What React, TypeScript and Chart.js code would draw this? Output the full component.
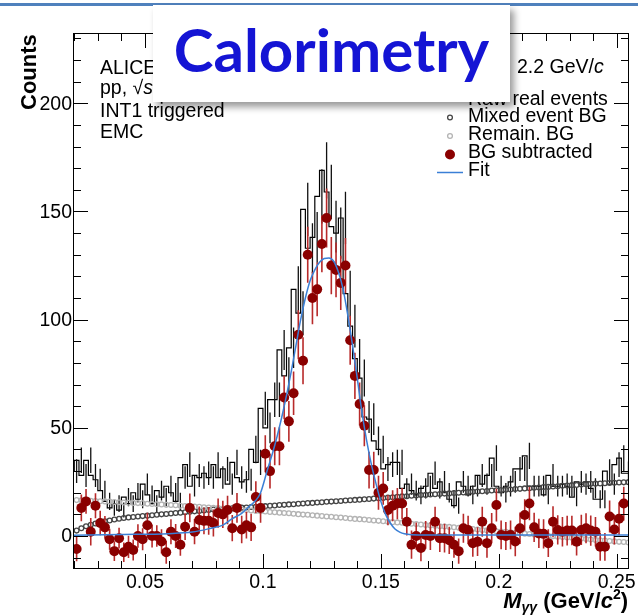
import React, { useEffect, useRef } from 'react';
import { Chart, registerables } from 'chart.js';
Chart.register(...registerables);

// ---------- data ----------
const BIN_LOW = 0.02;
const BIN_WIDTH = 0.002;

const RAW_COUNTS = [
  30, 35, 28, 35, 28, 26, 21, 16, 13, 15,
  12, 18, 15, 20, 17, 24, 19, 15, 21, 18,
  23, 20, 16, 27, 33, 23, 28, 27, 29, 27,
  33, 27, 31, 24, 34, 27, 25, 26, 40, 34,
  59, 50, 63, 63, 86, 74, 87, 114, 103, 151,
  133, 138, 157, 169, 159, 143, 140, 147, 112, 97,
  82, 73, 55, 54, 44, 40, 31, 33, 34, 34,
  22, 24, 21, 19, 22, 23, 29, 22, 25, 20,
  17, 14, 25, 23, 19, 23, 28, 24, 28, 36,
  23, 20, 23, 25, 31, 31, 37, 23, 23, 23,
  19, 28, 23, 23, 24, 23, 18, 25, 24, 25,
  22, 17, 17, 30, 24, 33, 36, 29,
];

const MIXED_BG = [
  2.5, 3.6, 4.5, 5.2, 5.8, 6.3, 6.8, 7.2, 7.6, 8.0,
  8.3, 8.6, 8.8, 9.0, 9.2, 9.4, 9.6, 9.8, 10.0, 10.2,
  10.4, 10.6, 10.8, 11.0, 11.2, 11.4, 11.6, 11.8, 12.0, 12.2,
  12.3, 12.5, 12.6, 12.8, 12.9, 13.1, 13.2, 13.4, 13.5, 13.7,
  13.8, 14.0, 14.1, 14.3, 14.4, 14.6, 14.7, 14.9, 15.0, 15.2,
  15.3, 15.5, 15.6, 15.8, 15.9, 16.1, 16.2, 16.4, 16.5, 16.7,
  16.8, 17.0, 17.1, 17.3, 17.4, 17.6, 17.8, 17.9, 18.1, 18.3,
  18.4, 18.6, 18.7, 18.9, 19.0, 19.2, 19.3, 19.4, 19.6, 19.7,
  19.9, 20.0, 20.1, 20.3, 20.4, 20.6, 20.7, 20.8, 21.0, 21.1,
  21.3, 21.4, 21.5, 21.7, 21.8, 22.0, 22.1, 22.3, 22.4, 22.6,
  22.7, 22.9, 23.0, 23.2, 23.3, 23.5, 23.6, 23.8, 23.9, 24.1,
  24.2, 24.3, 24.4, 24.5, 24.6, 24.7, 24.8, 24.9,
];

const REMAIN_BG = [
  16.6, 16.5, 16.4, 16.3, 16.2, 16.1, 16.0, 15.9, 15.7, 15.6,
  15.5, 15.4, 15.3, 15.2, 15.1, 14.9, 14.8, 14.7, 14.6, 14.4,
  14.3, 14.2, 14.0, 13.9, 13.8, 13.6, 13.5, 13.3, 13.2, 13.0,
  12.9, 12.7, 12.6, 12.4, 12.3, 12.1, 12.0, 11.8, 11.6, 11.5,
  11.3, 11.1, 11.0, 10.8, 10.6, 10.5, 10.3, 10.1, 9.9, 9.8,
  9.6, 9.4, 9.2, 9.0, 8.9, 8.7, 8.5, 8.3, 8.1, 7.9,
  7.8, 7.6, 7.4, 7.2, 7.0, 6.8, 6.6, 6.4, 6.3, 6.1,
  5.9, 5.7, 5.5, 5.3, 5.1, 4.9, 4.7, 4.5, 4.4, 4.2,
  4.0, 3.8, 3.6, 3.4, 3.2, 3.0, 2.8, 2.6, 2.4, 2.2,
  2.1, 1.9, 1.7, 1.5, 1.3, 1.1, 0.9, 0.7, 0.5, 0.3,
  0.1, -0.1, -0.3, -0.5, -0.7, -0.8, -1.0, -1.2, -1.4, -1.6,
  -1.8, -2.0, -2.1, -2.3, -2.5, -2.7, -2.8, -3.0,
];

const BG_SUBTRACTED = [
  -6, 13, 16, 2, 14, 6, 4, -1.5, -7, -1,
  -7.5, -5, -6.5, 0, -1.5, 5, 0, 0, -2.5, -7.5,
  2, 0, -4, 4.3, 13, 2, 7.4, 7, 7, 6,
  10.6, 10, 12, 3.6, 13, 3, 5, 4, 18, 13,
  38, 30, 41.5, 41.5, 64, 53, 66, 93, 81, 130,
  110, 114, 135, 147, 125, 123, 117, 125, 90.5, 74,
  61, 51, 30.5, 30.5, 20, 22, 12, 14, 15, 15,
  6.6, -4, 0, -5.5, 0.5, 0, 6.6, -1, -1, -2,
  -4, -7, 3.6, 2.8, -3.3, -2.6, 6.6, -3.3, 3.6, 14.3,
  0.5, 0, 0.5, -2.5, 3.6, 9.7, 15, 4, 1.2, 1,
  -3.3, 6.6, 2.8, 2, 2.5, 2.5, -2.6, 2.8, 3.6, 2.5,
  2, -5, -5, 9, 3, 8, 15, null,
];

const FIT_X = [
  0.0195, 0.04, 0.06, 0.07, 0.078, 0.083, 0.087, 0.091, 0.094, 0.097,
  0.099, 0.102, 0.104, 0.106, 0.108, 0.110, 0.112, 0.114, 0.116, 0.118,
  0.120, 0.122, 0.124, 0.126, 0.128, 0.130, 0.132, 0.134, 0.136, 0.138,
  0.140, 0.142, 0.144, 0.146, 0.148, 0.150, 0.152, 0.154, 0.156, 0.158,
  0.160, 0.163, 0.170, 0.200, 0.2553,
];
const FIT_Y = [
  0.4, 0.7, 1.1, 1.8, 3.6, 5.0, 8.0, 10.5, 13.5, 16.5,
  20, 31, 38, 46, 55, 65, 76, 88, 100, 110,
  118, 123, 126.5, 128.3, 128.5, 127, 122, 114, 102, 88,
  73, 57, 44, 33, 24, 16, 10, 6, 3.2, 1.8,
  1.0, 0.6, 0.5, 0.5, 0.5,
];

const X_MIN = 0.01947;
const X_MAX = 0.25522;
const Y_MIN = -15.25;
const Y_MAX = 232.5;
const X_MAJOR = [0.05, 0.1, 0.15, 0.2, 0.25];
const X_LABELS = ['0.05', '0.1', '0.15', '0.2', '0.25'];
const X_MINOR = [0.02, 0.03, 0.04, 0.06, 0.07, 0.08, 0.09, 0.11, 0.12, 0.13, 0.14, 0.16, 0.17, 0.18, 0.19, 0.21, 0.22, 0.23, 0.24];
const Y_MAJOR = [0, 50, 100, 150, 200];
const Y_LABELS = ['0', '50', '100', '150', '200'];
const Y_MINOR = [-10, 10, 20, 30, 40, 60, 70, 80, 90, 110, 120, 130, 140, 160, 170, 180, 190, 210, 220, 230];

const LEGEND_ITEMS = ['Raw real events', 'Mixed event BG', 'Remain. BG', 'BG subtracted', 'Fit'];

// ---------- colours ----------
const RED = '#8a0000';
const RED_ERR = '#b82a2a';
const DARK = '#454545';
const GREY = '#b4b4b4';
const BLUE = '#3a7fd6';
const FONT = '"Liberation Sans", Arial, Helvetica, sans-serif';

// ---------- derived datasets ----------
const centers = RAW_COUNTS.map((_, i) => BIN_LOW + BIN_WIDTH * (i + 0.5));
const histSteps = RAW_COUNTS.map((v, i) => ({ x: BIN_LOW + BIN_WIDTH * i, y: v }));
histSteps.push({ x: BIN_LOW + BIN_WIDTH * RAW_COUNTS.length, y: RAW_COUNTS[RAW_COUNTS.length - 1] });

const rawErr: any[] = [];
RAW_COUNTS.forEach((v, i) => {
  const e = Math.sqrt(v);
  rawErr.push({ x: centers[i], y: v - e }, { x: centers[i], y: v + e }, { x: centers[i], y: null });
});
const redErr: any[] = [];
BG_SUBTRACTED.forEach((v, i) => {
  if (v === null) return;
  const e = Math.sqrt(RAW_COUNTS[i] + MIXED_BG[i]);
  redErr.push({ x: centers[i], y: v - e }, { x: centers[i], y: v + e }, { x: centers[i], y: null });
});
const redPts = BG_SUBTRACTED.map((v, i) => ({ x: centers[i], y: v }));
const mixedPts = MIXED_BG.map((v, i) => ({ x: centers[i], y: v }));
const remainPts = REMAIN_BG.map((v, i) => ({ x: centers[i], y: v }));
const fitPts = FIT_X.map((x, i) => ({ x, y: FIT_Y[i] }));

function drawRich(ctx: CanvasRenderingContext2D, parts: any[], x: number, y: number, align: 'left' | 'right') {
  let total = 0;
  parts.forEach((p) => { ctx.font = p.f; total += ctx.measureText(p.t).width; });
  let cx = align === 'right' ? x - total : x;
  ctx.textAlign = 'left';
  ctx.textBaseline = 'alphabetic';
  parts.forEach((p) => {
    ctx.font = p.f;
    ctx.fillText(p.t, cx, y + (p.dy || 0));
    cx += ctx.measureText(p.t).width;
  });
}

const rootPlugin = {
  id: 'rootStyle',
  afterDraw(chart: any) {
    const { ctx, chartArea: a, scales } = chart;
    const xs = scales.x;
    const ys = scales.y;
    ctx.save();
    ctx.strokeStyle = '#000';
    ctx.lineWidth = 1;
    ctx.strokeRect(a.left + 0.5, a.top + 0.5, a.right - a.left - 1, a.bottom - a.top - 1);

    const xTick = (v: number, len: number) => {
      const px = Math.round(xs.getPixelForValue(v)) + 0.5;
      ctx.beginPath();
      ctx.moveTo(px, a.bottom); ctx.lineTo(px, a.bottom - len);
      ctx.moveTo(px, a.top); ctx.lineTo(px, a.top + len);
      ctx.stroke();
    };
    const yTick = (v: number, len: number) => {
      const py = Math.round(ys.getPixelForValue(v)) + 0.5;
      ctx.beginPath();
      ctx.moveTo(a.left, py); ctx.lineTo(a.left + len, py);
      ctx.moveTo(a.right, py); ctx.lineTo(a.right - len, py);
      ctx.stroke();
    };
    X_MINOR.forEach((v) => xTick(v, 8));
    X_MAJOR.forEach((v) => xTick(v, 15));
    Y_MINOR.forEach((v) => yTick(v, 8));
    Y_MAJOR.forEach((v) => yTick(v, 15));

    ctx.fillStyle = '#000';
    ctx.font = '19.5px ' + FONT;
    ctx.textAlign = 'right';
    ctx.textBaseline = 'middle';
    Y_MAJOR.forEach((v, i) => ctx.fillText(Y_LABELS[i], a.left - 1, ys.getPixelForValue(v) + 1));
    ctx.textAlign = 'center';
    ctx.textBaseline = 'alphabetic';
    X_MAJOR.forEach((v, i) => ctx.fillText(X_LABELS[i], xs.getPixelForValue(v), 588));

    // y title
    ctx.save();
    ctx.translate(36, 110);
    ctx.rotate(-Math.PI / 2);
    ctx.font = 'bold 22px ' + FONT;
    ctx.textAlign = 'left';
    ctx.fillText('Counts', 0, 0);
    ctx.restore();

    // x title
    drawRich(ctx, [
      { t: 'M', f: 'italic bold 22px ' + FONT },
      { t: 'γγ', f: 'italic bold 14px ' + FONT, dy: 4 },
      { t: ' (GeV/', f: 'bold 22px ' + FONT },
      { t: 'c', f: 'italic bold 22px ' + FONT },
      { t: '2', f: 'bold 14px ' + FONT, dy: -9 },
      { t: ')', f: 'bold 22px ' + FONT },
    ], 628, 608, 'right');

    // annotations
    ctx.font = '19.5px ' + FONT;
    ctx.textAlign = 'left';
    ctx.fillText('ALICE', 100, 73.5);
    drawRich(ctx, [
      { t: 'pp, √', f: '19.5px ' + FONT },
      { t: 's', f: 'italic 19.5px ' + FONT },
    ], 100, 94, 'left');
    ctx.font = '19.5px ' + FONT;
    ctx.fillText('INT1 triggered', 100, 116.5);
    ctx.fillText('EMC', 100, 138);
    drawRich(ctx, [
      { t: '2.2 GeV/', f: '19.5px ' + FONT },
      { t: 'c', f: 'italic 19.5px ' + FONT },
    ], 517, 73, 'left');

    // legend
    const lx = 468;
    const base = [104.5, 122, 140, 157.5, 176];
    ctx.font = '19.5px ' + FONT;
    ctx.fillStyle = '#000';
    LEGEND_ITEMS.forEach((t, i) => ctx.fillText(t, lx, base[i]));
    ctx.lineWidth = 1.3;
    ctx.strokeStyle = DARK;
    ctx.beginPath(); ctx.arc(450, 117.5, 2.4, 0, Math.PI * 2); ctx.stroke();
    ctx.strokeStyle = GREY;
    ctx.beginPath(); ctx.arc(450, 136, 2.4, 0, Math.PI * 2); ctx.stroke();
    ctx.fillStyle = RED;
    ctx.beginPath(); ctx.arc(450, 154.5, 5, 0, Math.PI * 2); ctx.fill();
    ctx.strokeStyle = BLUE;
    ctx.lineWidth = 1.5;
    ctx.beginPath(); ctx.moveTo(437, 172.5); ctx.lineTo(463, 172.5); ctx.stroke();
    ctx.restore();
  },
};

export default function App() {
  const ref = useRef<HTMLCanvasElement>(null);
  useEffect(() => {
    document.body.style.margin = '0';
    const canvas = ref.current!;
    const chart = new Chart(canvas, {
      type: 'line',
      data: {
        datasets: [
          { label: 'Fit', data: fitPts, borderColor: BLUE, borderWidth: 1.5, pointRadius: 0, tension: 0.4, cubicInterpolationMode: 'monotone', order: 0 } as any,
          { label: 'BG subtracted', data: redPts, showLine: false, pointRadius: 5, pointBorderWidth: 0, pointBackgroundColor: RED, pointBorderColor: RED, order: 1 } as any,
          { label: 'BG subtracted err', data: redErr, borderColor: RED_ERR, borderWidth: 1.6, pointRadius: 0, spanGaps: false, order: 2 } as any,
          { label: 'Remain. BG', data: remainPts, showLine: false, pointRadius: 2.4, pointBorderWidth: 1.3, pointBorderColor: GREY, pointBackgroundColor: 'rgba(0,0,0,0)', order: 3 } as any,
          { label: 'Mixed event BG', data: mixedPts, showLine: false, pointRadius: 2.4, pointBorderWidth: 1.3, pointBorderColor: DARK, pointBackgroundColor: 'rgba(0,0,0,0)', order: 4 } as any,
          { label: 'Raw err', data: rawErr, borderColor: '#111', borderWidth: 1.3, pointRadius: 0, spanGaps: false, order: 5 } as any,
          { label: 'Raw real events', data: histSteps, borderColor: '#000', borderWidth: 1.2, pointRadius: 0, stepped: 'after', order: 6 } as any,
        ],
      },
      options: {
        responsive: false,
        animation: false,
        devicePixelRatio: 1,
        events: [],
        layout: { padding: { left: 73, top: 33, right: 9, bottom: 46 } },
        scales: {
          x: { type: 'linear', min: X_MIN, max: X_MAX, display: false },
          y: { type: 'linear', min: Y_MIN, max: Y_MAX, display: false },
        },
        plugins: { legend: { display: false }, tooltip: { enabled: false } },
      },
      plugins: [rootPlugin],
    } as any);
    return () => chart.destroy();
  }, []);

  return (
    <div style={{ position: 'relative', width: 638, height: 615, overflow: 'hidden', background: '#fff' }}>
      <canvas ref={ref} width={638} height={615} style={{ position: 'absolute', left: 0, top: 0, width: 638, height: 615 }} />
      <div style={{ position: 'absolute', left: 0, top: 3, width: 638, height: 3, background: '#4f81bd' }} />
      <div style={{ position: 'absolute', left: 153, top: 5, width: 357, height: 97, background: '#fff', boxShadow: '4px 5px 7px rgba(0,0,0,0.4)' }}>
        <div style={{ position: 'absolute', left: 0, right: 0, top: 14, textAlign: 'center', fontFamily: 'Lato, "Noto Sans", sans-serif', fontWeight: 700, fontSize: 60, lineHeight: 1, color: '#1414d4', whiteSpace: 'nowrap' }}>Calorimetry</div>
      </div>
    </div>
  );
}
